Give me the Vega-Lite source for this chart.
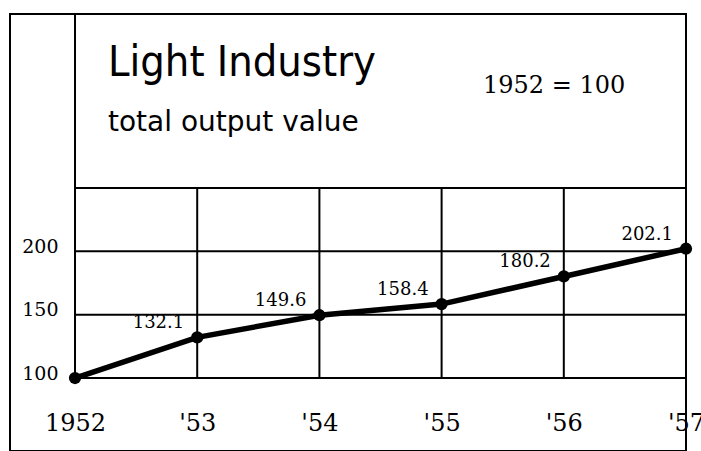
{
  "$schema": "https://vega.github.io/schema/vega-lite/v6.json",
  "width": 676,
  "height": 437,
  "padding": {"left": 10, "top": 14, "right": 15, "bottom": 0},
  "autosize": {"type": "none"},
  "background": "white",
  "config": {"view": {"stroke": "black", "strokeWidth": 2}, "font": "DejaVu Serif"},
  "layer": [
    {
      "data": {"values": [
        {"year": 1952, "value": 100},
        {"year": 1953, "value": 132.1},
        {"year": 1954, "value": 149.6},
        {"year": 1955, "value": 158.4},
        {"year": 1956, "value": 180.2},
        {"year": 1957, "value": 202.1}
      ]},
      "encoding": {
        "x": {
          "field": "year", "type": "quantitative",
          "scale": {"domain": [1951.468, 1957], "nice": false, "zero": false},
          "axis": {
            "values": [1952, 1953, 1954, 1955, 1956, 1957],
            "format": "d",
            "labelExpr": "datum.value == 1952 ? datum.label : \"'\" + slice(datum.label, 2)",
            "domain": false, "ticks": false, "tickSize": 0, "grid": false,
            "offset": -28, "labelBaseline": "middle", "labelPadding": 0,
            "labelFont": "DejaVu Serif", "labelFontSize": 24, "labelColor": "black",
            "labelFlush": false, "labelOverlap": false, "labelBound": false,
            "title": null
          }
        },
        "y": {
          "field": "value", "type": "quantitative",
          "scale": {"domain": [42.4, 387.4], "nice": false, "zero": false},
          "axis": {
            "values": [100, 150, 200],
            "domain": false, "ticks": false, "tickSize": 0, "grid": false,
            "offset": -50, "labelPadding": 2, "labelOffset": -5,
            "labelFont": "DejaVu Serif", "labelFontSize": 19, "labelColor": "black",
            "labelFlush": false, "labelOverlap": false, "labelBound": false,
            "title": null
          }
        }
      },
      "layer": [
        {"mark": {"type": "line", "color": "black", "strokeWidth": 5.5}},
        {"mark": {"type": "point", "shape": "circle", "filled": true, "color": "black", "opacity": 1, "size": 150}},
        {
          "transform": [{"filter": "datum.year > 1952"}],
          "mark": {"type": "text", "align": "right", "baseline": "middle", "dx": -13, "dy": -14, "font": "DejaVu Serif", "fontSize": 18, "color": "black"},
          "encoding": {"text": {"field": "value", "type": "quantitative", "format": ".1f"}}
        }
      ]
    },
    {
      "data": {"values": [{"g": 100}, {"g": 150}, {"g": 200}, {"g": 250}]},
      "mark": {"type": "rule", "color": "black", "strokeWidth": 2},
      "encoding": {
        "y": {"field": "g", "type": "quantitative"},
        "x": {"datum": 1952, "type": "quantitative"},
        "x2": {"datum": 1957}
      }
    },
    {
      "data": {"values": [{"yr": 1953}, {"yr": 1954}, {"yr": 1955}, {"yr": 1956}]},
      "mark": {"type": "rule", "color": "black", "strokeWidth": 2},
      "encoding": {
        "x": {"field": "yr", "type": "quantitative"},
        "y": {"datum": 100, "type": "quantitative"},
        "y2": {"datum": 250}
      }
    },
    {
      "data": {"values": [{"yr": 1952}]},
      "mark": {"type": "rule", "color": "black", "strokeWidth": 2},
      "encoding": {
        "x": {"field": "yr", "type": "quantitative"},
        "y": {"datum": 100, "type": "quantitative"},
        "y2": {"datum": 387.4}
      }
    },
    {
      "data": {"values": [{"t": "Light Industry"}]},
      "mark": {"type": "text", "align": "left", "baseline": "alphabetic", "font": "DejaVu Sans Condensed, Liberation Sans Narrow, DejaVu Sans", "fontSize": 43, "color": "black"},
      "encoding": {
        "text": {"field": "t"},
        "x": {"datum": 1952.27, "type": "quantitative"},
        "y": {"datum": 338.5, "type": "quantitative"}
      }
    },
    {
      "data": {"values": [{"t": "total output value"}]},
      "mark": {"type": "text", "align": "left", "baseline": "alphabetic", "font": "DejaVu Sans", "fontSize": 28, "color": "black"},
      "encoding": {
        "text": {"field": "t"},
        "x": {"datum": 1952.27, "type": "quantitative"},
        "y": {"datum": 295, "type": "quantitative"}
      }
    },
    {
      "data": {"values": [{"t": "1952 = 100"}]},
      "mark": {"type": "text", "align": "left", "baseline": "alphabetic", "font": "DejaVu Serif", "fontSize": 24, "color": "black"},
      "encoding": {
        "text": {"field": "t"},
        "x": {"datum": 1955.339, "type": "quantitative"},
        "y": {"datum": 325, "type": "quantitative"}
      }
    }
  ]
}
